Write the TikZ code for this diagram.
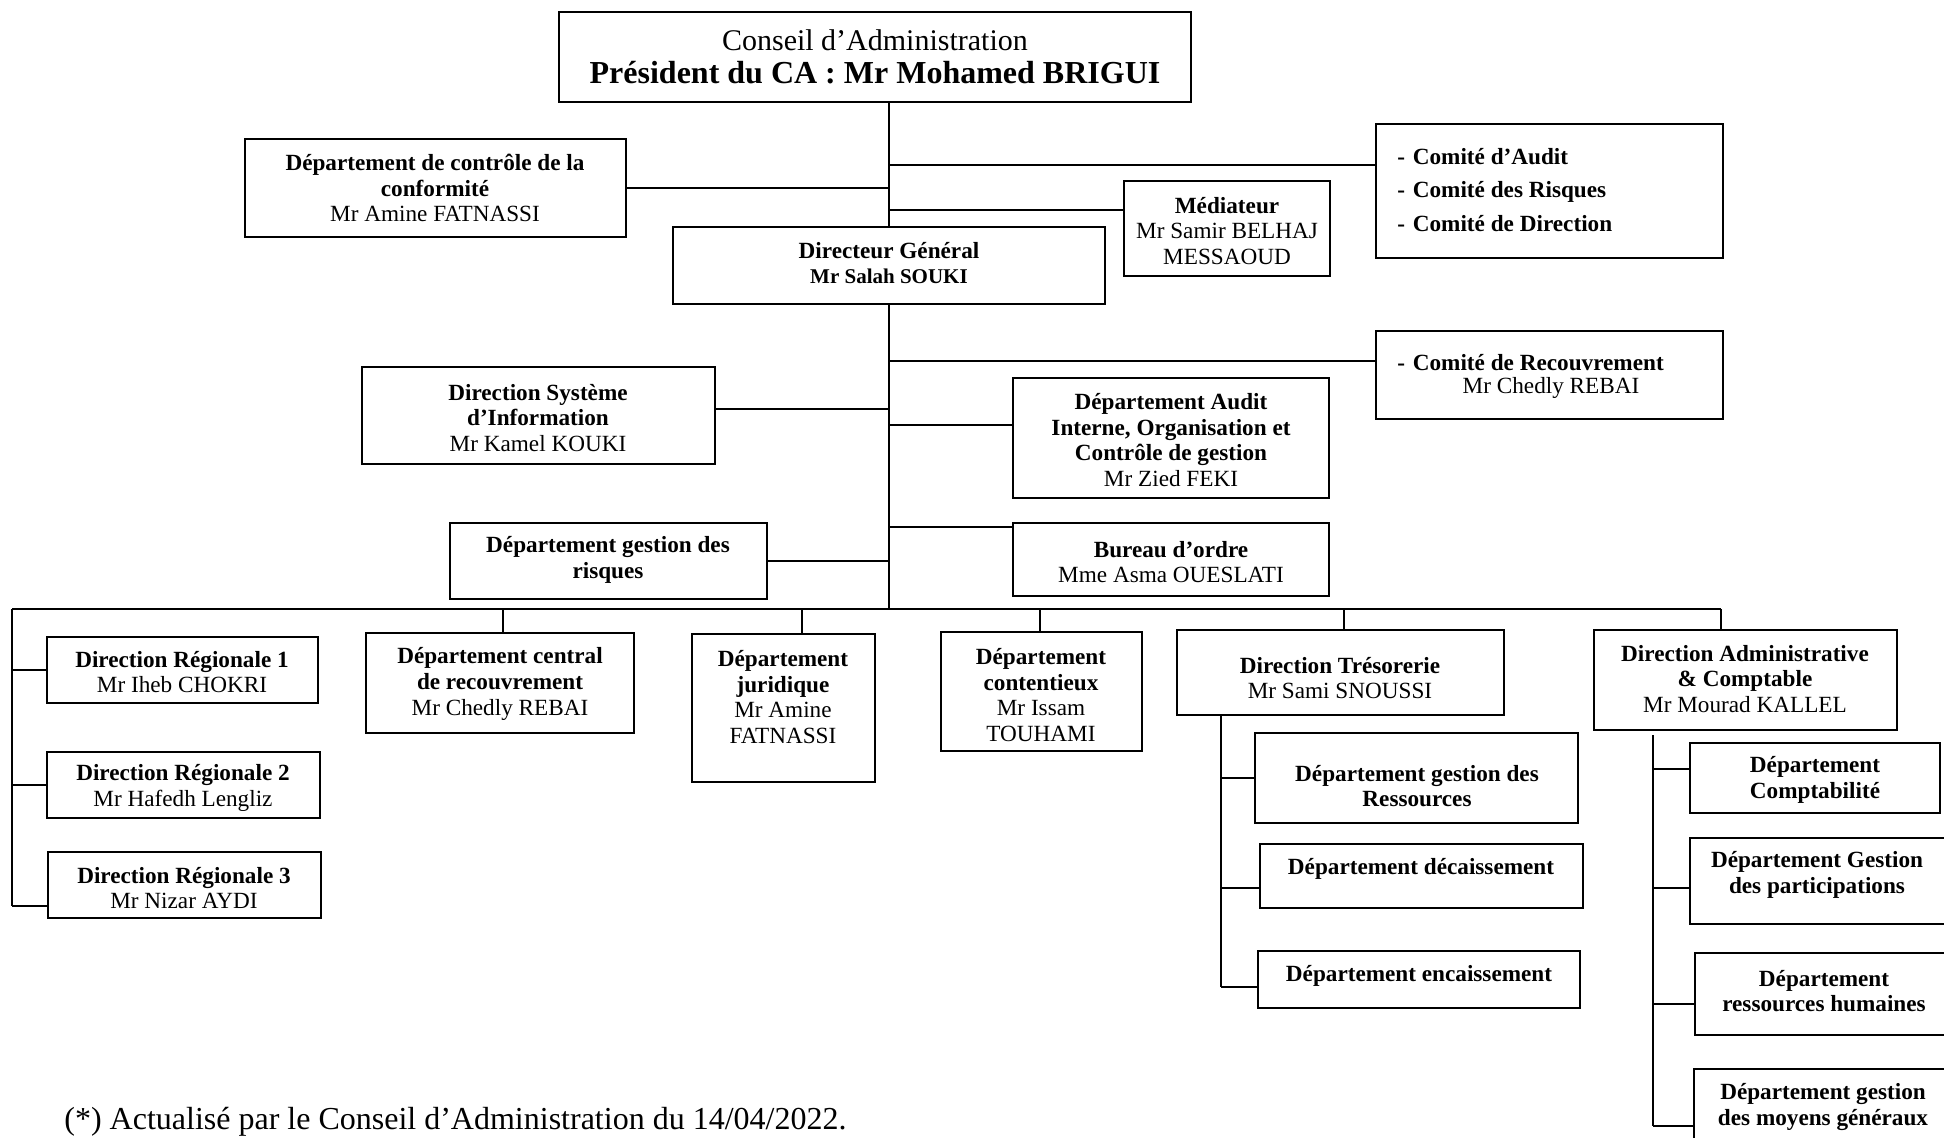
\documentclass[tikz,border=0pt]{standalone}
\usepackage{fontspec}
\setmainfont{Liberation Serif}
\usetikzlibrary{fit}
\newcommand{\fsz}{\fontsize{11.6}{12.8}\selectfont}
\begin{document}
\begin{tikzpicture}[x=0.5pt,y=-0.5pt,
  box/.style={draw,line width=1pt,rectangle,inner sep=0pt},
  txt/.style={align=center,font=\fsz,inner sep=0pt},
  ln/.style={line width=1pt}]
\useasboundingbox (0,0) rectangle (1944,1138);
\clip (0,0) rectangle (1944,1138);
% ---- boxes
\node[box,fit={(559,12) (1191,102)}] (ca) {};
\node[txt,font=\fontsize{16}{16.5}\selectfont] (cat) at (875,57) {{\fontsize{15}{16.5}\selectfont Conseil d’Administration}\\\textbf{Président du CA : Mr Mohamed BRIGUI}};
\node[box,fit={(245,139) (626,237)}] (conf) {};
\node[txt] (conft) at (435,188) {\textbf{Département de contrôle de la}\\\textbf{conformité}\\Mr Amine FATNASSI};
\node[box,fit={(1376,124) (1723,258)}] (comites) {};
\node[txt,align=left,anchor=west,font=\fontsize{11.6}{16.8}\selectfont] (comitest) at (1397,190) {\textbf{-\,\,Comité d’Audit}\\\textbf{-\,\,Comité des Risques}\\\textbf{-\,\,Comité de Direction}};
\node[box,fit={(1124,181) (1330,276)}] (med) {};
\node[txt] (medt) at (1227,231) {\textbf{Médiateur}\\Mr Samir BELHAJ\\MESSAOUD};
\node[box,fit={(673,227) (1105,304)}] (dg) {};
\node[txt] (dgt) at (889,263) {\textbf{Directeur Général}\\{\fontsize{10.5}{12}\selectfont\bfseries Mr Salah SOUKI}};
\node[box,fit={(1376,331) (1723,419)}] (recv) {};
\node[txt,anchor=west] (recvt) at (1397,363) {\textbf{-\,\,Comité de Recouvrement}};
\node[txt] (recvn) at (1551,388) {Mr Chedly REBAI};
\node[box,fit={(362,367) (715,464)}] (dsi) {};
\node[txt] (dsit) at (538,418) {\textbf{Direction Système}\\\textbf{d’Information}\\Mr Kamel KOUKI};
\node[box,fit={(1013,378) (1329,498)}] (audit) {};
\node[txt] (auditt) at (1171,440) {\textbf{Département Audit}\\\textbf{Interne, Organisation et}\\\textbf{Contrôle de gestion}\\Mr Zied FEKI};
\node[box,fit={(450,523) (767,599)}] (risq) {};
\node[txt] (risqt) at (608,560) {\textbf{Département gestion des}\\\textbf{risques}};
\node[box,fit={(1013,523) (1329,596)}] (bur) {};
\node[txt] (burt) at (1171,562) {\textbf{Bureau d’ordre}\\Mme Asma OUESLATI};
\node[box,fit={(47,637) (318,703)}] (dr1) {};
\node[txt] (dr1t) at (182,672) {\textbf{Direction Régionale 1}\\Mr Iheb CHOKRI};
\node[box,fit={(47,752) (320,818)}] (dr2) {};
\node[txt] (dr2t) at (183,788) {\textbf{Direction Régionale 2}\\Mr Hafedh Lengliz};
\node[box,fit={(48,852) (321,918)}] (dr3) {};
\node[txt] (dr3t) at (184,888) {\textbf{Direction Régionale 3}\\Mr Nizar AYDI};
\node[box,fit={(366,633) (634,733)}] (central) {};
\node[txt] (centralt) at (500,684) {\textbf{Département central}\\\textbf{de recouvrement}\\Mr Chedly REBAI};
\node[box,fit={(692,634) (875,782)}] (jur) {};
\node[txt] (jurt) at (783,697) {\textbf{Département}\\\textbf{juridique}\\Mr Amine\\FATNASSI};
\node[box,fit={(941,632) (1142,751)}] (cont) {};
\node[txt] (contt) at (1041,695) {\textbf{Département}\\\textbf{contentieux}\\Mr Issam\\TOUHAMI};
\node[box,fit={(1177,630) (1504,715)}] (tres) {};
\node[txt] (trest) at (1340,678) {\textbf{Direction Trésorerie}\\Mr Sami SNOUSSI};
\node[box,fit={(1255,733) (1578,823)}] (ress) {};
\node[txt] (resst) at (1417,786) {\textbf{Département gestion des}\\\textbf{Ressources}};
\node[box,fit={(1260,844) (1583,908)}] (deca) {};
\node[txt] (decat) at (1421,869) {\textbf{Département décaissement}};
\node[box,fit={(1258,951) (1580,1008)}] (enca) {};
\node[txt] (encat) at (1419,976) {\textbf{Département encaissement}};
\node[box,fit={(1594,630) (1897,730)}] (adm) {};
\node[txt] (admt) at (1745,679) {\textbf{Direction Administrative}\\\textbf{\& Comptable}\\Mr Mourad KALLEL};
\node[box,fit={(1690,743) (1940,813)}] (compta) {};
\node[txt] (comptat) at (1815,780) {\textbf{Département}\\\textbf{Comptabilité}};
\node[box,fit={(1690,838) (1950,924)}] (part) {};
\node[txt] (partt) at (1817,875) {\textbf{Département Gestion}\\\textbf{des participations}};
\node[box,fit={(1695,953) (1950,1035)}] (rh) {};
\node[txt] (rht) at (1824,991) {\textbf{Département}\\\textbf{ressources humaines}};
\node[box,fit={(1694,1069) (1950,1160)}] (moy) {};
\node[txt] (moyt) at (1823,1107) {\textbf{Département gestion}\\\textbf{des moyens généraux}};
\node[inner sep=0pt,anchor=base west,font=\fontsize{16}{18}\selectfont] (note) at (64,1129) {(*) Actualisé par le Conseil d’Administration du 14/04/2022.};
% ---- coordinates
\coordinate (jc) at (888,165);
\coordinate (jm) at (888,210);
\coordinate (jr) at (888,361);
\coordinate (jd) at (888,409);
\coordinate (ja) at (888,425);
\coordinate (jb) at (888,527);
\coordinate (barL) at (12,609);
\coordinate (barR) at (1721,609);
\coordinate (lvB) at (12,906);
\coordinate (tc) at (503,609);
\coordinate (tj) at (802,609);
\coordinate (tk) at (1040,609);
\coordinate (tt) at (1344,609);
\coordinate (tvT) at (1221,715);
\coordinate (td) at (1221,888);
\coordinate (tvB) at (1221,987);
\coordinate (avT) at (1653,735);
\coordinate (ac) at (1653,769);
\coordinate (ap) at (1653,888);
\coordinate (ar) at (1653,1004);
\coordinate (avB) at (1653,1126);
% ---- connectors
\draw[ln] (ca.south -| dg.north) -- (dg.north);
\draw[ln] (conf.east) -- (conf.east -| dg.north);
\draw[ln] (jc) -- (jc -| comites.west);
\draw[ln] (jm) -- (jm -| med.west);
\draw[ln] (dg.south) -- (dg.south |- barL);
\draw[ln] (jr) -- (jr -| recv.west);
\draw[ln] (jd) -- (jd -| dsi.east);
\draw[ln] (ja) -- (ja -| audit.west);
\draw[ln] (risq.east) -- (risq.east -| dg.south);
\draw[ln] (jb) -- (jb -| bur.west);
\draw[ln] (barL) -- (barR);
\draw[ln] (barL) -- (lvB);
\draw[ln] (barL |- dr1.west) -- (dr1.west);
\draw[ln] (barL |- dr2.west) -- (dr2.west);
\draw[ln] (lvB) -- (lvB -| dr3.west);
\draw[ln] (tc) -- (tc |- central.north);
\draw[ln] (tj) -- (tj |- jur.north);
\draw[ln] (tk) -- (tk |- cont.north);
\draw[ln] (tt) -- (tt |- tres.north);
\draw[ln] (barR) -- (barR |- adm.north);
\draw[ln] (tvT) -- (tvB);
\draw[ln] (tvT |- ress.west) -- (ress.west);
\draw[ln] (td) -- (td -| deca.west);
\draw[ln] (tvB) -- (tvB -| enca.west);
\draw[ln] (avT) -- (avB);
\draw[ln] (ac) -- (ac -| compta.west);
\draw[ln] (ap) -- (ap -| part.west);
\draw[ln] (ar) -- (ar -| rh.west);
\draw[ln] (avB) -- (avB -| moy.west);
\end{tikzpicture}
\end{document}
